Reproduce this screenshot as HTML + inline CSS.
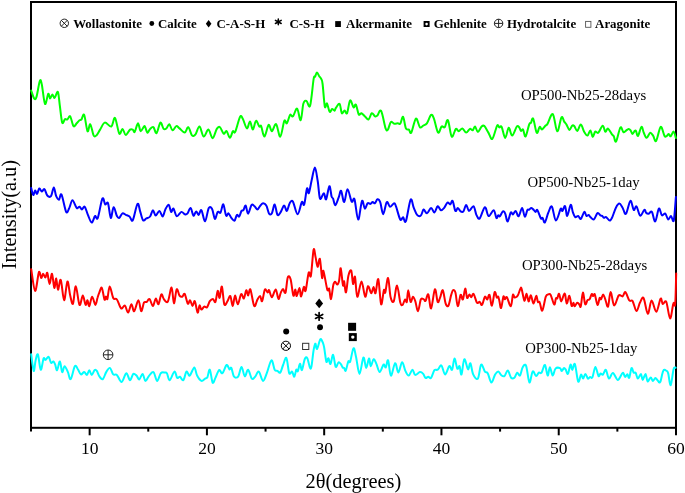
<!DOCTYPE html>
<html><head><meta charset="utf-8">
<style>
html,body{margin:0;padding:0;background:#fff;}
body{width:685px;height:493px;overflow:hidden;}
svg{display:block;will-change:transform;}
.serif{font-family:"Liberation Serif", serif;}
.leg{font-family:"Liberation Serif", serif;font-weight:bold;font-size:12.9px;fill:#000;}
.tick{font-family:"Liberation Serif", serif;font-size:17.5px;fill:#000;}
.clab{font-family:"Liberation Serif", serif;font-size:14.75px;fill:#000;}
.axl{font-family:"Liberation Serif", serif;font-size:20.4px;fill:#000;}
</style></head>
<body>
<svg width="685" height="493" viewBox="0 0 685 493">
<rect x="0" y="0" width="685" height="493" fill="#fff"/>
<rect x="31" y="2" width="645" height="425.8" fill="none" stroke="#000" stroke-width="2"/>
<g stroke="#000" stroke-width="2">
<line x1="31.00" y1="427.8" x2="31.00" y2="431.6"/><line x1="89.64" y1="427.8" x2="89.64" y2="435.3"/><line x1="148.27" y1="427.8" x2="148.27" y2="431.6"/><line x1="206.91" y1="427.8" x2="206.91" y2="435.3"/><line x1="265.55" y1="427.8" x2="265.55" y2="431.6"/><line x1="324.18" y1="427.8" x2="324.18" y2="435.3"/><line x1="382.82" y1="427.8" x2="382.82" y2="431.6"/><line x1="441.45" y1="427.8" x2="441.45" y2="435.3"/><line x1="500.09" y1="427.8" x2="500.09" y2="431.6"/><line x1="558.73" y1="427.8" x2="558.73" y2="435.3"/><line x1="617.36" y1="427.8" x2="617.36" y2="431.6"/><line x1="676.00" y1="427.8" x2="676.00" y2="435.3"/>
</g>
<g fill="none" stroke-width="2.0" stroke-linejoin="round" stroke-linecap="round">
<path d="M31.2,90.6C31.7,91.9 33.3,97.5 34.2,98.5C35.1,99.5 35.6,99.8 36.5,96.9C37.4,94.0 38.9,83.4 39.8,81.2C40.7,79.0 40.8,80.2 41.7,84.0C42.6,87.8 43.9,102.3 45.0,103.9C46.1,105.5 47.4,94.7 48.2,93.8C49.1,92.9 49.4,98.4 50.1,98.5C50.8,98.6 51.7,94.6 52.4,94.5C53.1,94.4 53.8,97.8 54.3,98.0C54.8,98.2 55.1,96.7 55.7,95.7C56.3,94.7 57.3,90.5 58.0,92.2C58.7,94.0 59.2,101.1 59.9,106.2C60.6,111.3 61.4,120.4 62.2,122.6C63.1,124.8 64.1,119.6 65.0,119.1C65.9,118.6 66.5,120.0 67.4,119.5C68.3,119.0 69.2,115.2 70.2,116.3C71.2,117.4 72.4,124.9 73.5,126.1C74.6,127.3 75.7,124.3 76.7,123.3C77.7,122.3 78.7,120.8 79.5,120.2C80.3,119.6 80.6,120.4 81.4,119.5C82.2,118.6 83.2,113.0 84.2,114.9C85.2,116.9 86.5,129.6 87.5,131.2C88.5,132.8 89.3,123.5 90.3,124.2C91.3,124.9 92.6,133.5 93.6,135.4C94.6,137.3 95.3,136.4 96.4,135.4C97.5,134.4 98.7,131.7 100.1,129.6C101.5,127.5 102.9,123.1 104.8,122.6C106.7,122.1 109.6,127.3 111.3,126.5C113.0,125.7 113.7,116.7 115.0,117.9C116.3,119.1 118.0,131.8 119.3,133.6C120.5,135.4 121.4,128.7 122.5,128.9C123.6,129.1 124.5,134.9 125.8,135.0C127.0,135.1 128.8,130.5 130.0,129.6C131.2,128.7 132.0,129.2 132.8,129.6C133.6,130.0 133.8,133.0 134.7,131.9C135.6,130.8 137.0,123.4 138.0,123.3C139.0,123.2 139.6,130.7 140.7,131.2C141.8,131.7 143.4,125.9 144.5,126.1C145.6,126.3 146.4,132.1 147.3,132.6C148.2,133.1 149.1,129.8 150.1,128.9C151.1,128.0 152.3,126.5 153.4,127.2C154.5,127.9 155.4,133.9 156.6,133.1C157.8,132.3 159.2,123.3 160.4,122.6C161.6,121.9 162.6,127.9 163.6,128.9C164.6,129.9 165.4,129.2 166.4,128.4C167.4,127.6 168.3,123.9 169.3,124.2C170.3,124.5 171.3,130.0 172.5,130.3C173.7,130.6 175.1,126.4 176.3,126.1C177.5,125.8 178.1,127.3 179.5,128.4C180.9,129.5 183.2,132.8 184.7,132.6C186.2,132.4 187.1,126.7 188.3,127.2C189.5,127.7 190.8,134.2 192.0,135.4C193.2,136.6 194.2,135.8 195.5,134.3C196.8,132.8 198.1,126.1 199.5,126.5C200.9,126.9 202.2,136.1 203.7,136.6C205.2,137.1 206.9,129.3 208.4,129.6C209.9,129.9 211.2,138.3 212.6,138.2C214.0,138.1 215.6,130.7 216.8,128.9C218.0,127.1 218.9,126.4 220.0,127.2C221.1,128.0 222.5,132.9 223.6,133.6C224.7,134.3 225.5,130.5 226.6,131.2C227.7,131.9 228.8,137.8 229.9,137.8C231.0,137.8 232.0,132.2 232.9,131.2C233.8,130.2 234.0,134.3 235.2,131.9C236.4,129.5 238.8,118.8 240.1,116.7C241.4,114.6 241.8,117.1 242.9,119.1C244.0,121.0 245.7,128.0 246.9,128.4C248.1,128.8 249.0,121.2 250.0,121.4C251.0,121.6 251.8,129.7 252.8,129.6C253.8,129.5 254.9,121.4 256.0,120.9C257.1,120.4 258.4,125.6 259.3,126.5C260.2,127.4 260.4,124.4 261.2,126.1C262.0,127.8 263.2,136.8 264.4,136.6C265.6,136.4 267.4,125.8 268.6,124.9C269.9,124.0 270.6,131.3 271.9,131.2C273.1,131.1 274.7,123.3 276.1,124.2C277.5,125.1 278.9,137.2 280.3,136.6C281.7,136.0 283.2,123.1 284.3,120.9C285.4,118.7 285.9,124.3 286.9,123.3C287.9,122.3 289.1,116.1 290.1,114.9C291.1,113.7 291.8,117.3 293.0,116.3C294.2,115.2 295.8,107.9 297.1,108.6C298.4,109.2 299.6,121.0 300.7,120.2C301.8,119.4 302.4,106.7 303.4,103.5C304.4,100.3 305.4,100.5 306.5,100.9C307.6,101.3 308.9,109.3 310.1,105.7C311.3,102.1 312.8,84.0 313.6,79.2C314.4,74.4 314.4,77.9 315.0,76.8C315.6,75.7 316.3,72.7 317.0,72.6C317.7,72.5 318.5,75.2 319.2,76.2C319.9,77.2 320.6,77.6 321.2,78.9C321.8,80.2 322.0,79.4 322.6,84.0C323.2,88.6 324.1,103.2 324.8,106.5C325.5,109.8 326.2,102.6 327.0,103.5C327.8,104.4 328.8,110.9 329.7,111.8C330.6,112.7 331.3,109.2 332.1,109.0C332.9,108.8 334.0,110.9 334.6,110.7C335.2,110.5 335.1,109.0 335.9,107.9C336.7,106.8 338.6,103.1 339.6,104.0C340.6,104.9 341.0,112.1 341.8,113.2C342.6,114.3 343.7,110.5 344.6,110.5C345.5,110.5 346.2,114.9 347.1,113.2C348.0,111.5 349.0,101.4 350.1,100.4C351.2,99.4 352.6,106.7 353.6,107.4C354.6,108.1 355.0,103.4 355.9,104.6C356.8,105.8 357.8,113.0 358.7,114.4C359.6,115.8 360.5,112.9 361.5,113.2C362.5,113.5 363.6,115.2 364.8,116.3C366.0,117.3 367.3,120.0 368.5,119.5C369.7,119.0 370.7,113.7 371.8,113.2C372.9,112.7 374.1,115.9 375.0,116.3C375.9,116.7 376.4,116.5 377.4,115.6C378.4,114.7 379.7,108.8 381.1,110.9C382.5,113.0 384.5,125.3 385.6,128.4C386.7,131.5 387.0,130.7 387.9,129.6C388.8,128.5 389.8,122.9 390.9,121.9C391.9,120.9 393.0,123.5 394.2,123.7C395.4,123.9 396.9,123.3 397.9,123.3C398.9,123.3 399.4,124.8 400.3,123.7C401.2,122.6 402.2,115.9 403.1,116.7C404.0,117.5 404.9,126.2 405.9,128.4C406.9,130.6 408.0,128.9 408.9,129.6C409.8,130.3 410.1,134.4 411.3,132.6C412.5,130.8 414.5,119.5 415.9,118.6C417.3,117.7 418.7,126.0 419.9,127.2C421.1,128.4 422.0,126.2 423.2,125.6C424.4,124.9 425.6,125.1 426.9,123.3C428.2,121.5 429.9,115.7 431.1,114.9C432.3,114.1 432.7,115.6 433.9,118.6C435.1,121.5 436.8,131.3 438.1,132.6C439.4,133.9 440.5,127.4 441.6,126.5C442.7,125.6 443.6,128.2 444.7,127.2C445.8,126.2 446.7,118.6 447.9,120.2C449.1,121.8 450.4,135.2 451.7,136.6C453.0,138.0 454.7,129.8 455.9,128.9C457.1,128.0 457.6,131.3 458.7,131.2C459.8,131.1 461.1,128.2 462.4,128.4C463.6,128.6 464.9,132.5 466.2,132.6C467.4,132.7 468.8,129.3 469.9,128.9C471.0,128.5 471.8,130.7 472.7,130.3C473.6,129.9 474.1,126.2 475.0,126.5C475.9,126.8 476.8,131.9 477.9,131.9C479.0,131.9 480.5,127.5 481.6,126.5C482.7,125.5 483.3,125.1 484.4,126.1C485.5,127.1 487.1,130.5 488.4,132.6C489.7,134.7 490.9,140.1 492.3,138.9C493.8,137.8 495.9,127.6 497.1,125.7C498.3,123.8 498.6,127.2 499.4,127.4C500.2,127.6 500.7,125.2 501.7,126.9C502.7,128.7 504.0,137.8 505.2,137.9C506.4,138.1 507.5,128.2 508.7,127.8C509.9,127.4 510.8,135.8 512.2,135.6C513.6,135.4 515.7,127.7 516.9,126.4C518.1,125.1 518.8,127.0 519.5,127.8C520.2,128.6 520.3,130.6 520.9,130.9C521.5,131.2 522.2,128.6 523.0,129.5C523.8,130.4 524.6,137.4 525.6,136.5C526.6,135.6 528.3,126.6 529.2,124.3C530.1,122.0 530.2,123.8 530.9,122.9C531.6,122.0 532.2,117.1 533.2,118.7C534.2,120.3 535.6,131.3 536.7,132.7C537.8,134.1 538.8,127.4 539.7,126.9C540.6,126.4 541.0,129.7 541.9,129.5C542.8,129.3 544.5,126.6 545.4,125.7C546.3,124.8 546.3,125.8 547.5,123.9C548.7,122.0 551.2,112.9 552.8,114.1C554.4,115.3 555.8,130.8 557.2,131.3C558.7,131.8 560.3,118.9 561.5,117.3C562.7,115.7 563.4,120.4 564.2,121.6C565.0,122.8 565.6,123.2 566.5,124.6C567.4,126.0 568.5,129.7 569.4,129.9C570.3,130.1 571.3,126.4 572.1,125.7C572.9,125.0 573.3,125.1 574.2,126.0C575.1,126.9 576.2,131.1 577.3,130.9C578.4,130.7 579.6,124.4 580.8,124.6C582.0,124.8 583.2,130.3 584.3,132.1C585.4,133.9 586.5,135.9 587.5,135.6C588.5,135.3 589.5,130.2 590.4,130.4C591.3,130.6 591.9,136.7 592.7,136.9C593.5,137.1 594.3,132.3 595.2,131.6C596.1,130.9 597.0,133.7 598.3,132.7C599.5,131.7 601.5,125.9 602.7,125.7C603.9,125.5 604.4,131.1 605.3,131.6C606.2,132.1 606.9,128.1 608.0,128.6C609.1,129.1 611.0,133.1 612.0,134.4C613.0,135.7 613.1,135.1 613.8,136.3C614.5,137.5 615.0,143.0 616.1,141.5C617.2,140.0 619.2,129.1 620.4,127.5C621.6,126.0 622.5,131.6 623.4,132.2C624.3,132.8 624.8,131.4 625.7,130.8C626.6,130.2 627.8,129.0 628.6,128.9C629.4,128.8 630.0,129.6 630.6,130.4C631.2,131.2 631.8,133.8 632.5,133.9C633.2,134.0 634.2,131.3 634.8,130.8C635.4,130.3 635.5,130.2 636.0,131.0C636.5,131.8 637.1,136.6 638.0,135.9C638.9,135.2 640.5,127.4 641.5,126.9C642.5,126.4 642.9,131.0 643.8,132.8C644.7,134.6 645.6,137.8 646.7,137.8C647.8,137.8 649.1,133.1 650.2,132.8C651.3,132.5 652.2,134.5 653.2,135.9C654.2,137.3 654.9,142.5 656.1,141.0C657.4,139.5 659.3,127.8 660.7,126.9C662.1,126.1 663.5,134.4 664.5,135.9C665.5,137.4 666.1,136.2 666.8,135.9C667.5,135.6 668.1,133.8 668.7,133.9C669.4,134.0 669.9,136.7 670.7,136.3C671.5,135.9 672.7,131.3 673.6,131.6C674.5,131.9 675.5,136.9 675.9,138.0" stroke="#00ff00"/>
<path d="M31.2,188.0C31.5,189.2 32.6,194.6 33.3,195.0C33.9,195.4 34.5,190.6 35.1,190.4C35.7,190.2 36.3,194.2 37.0,193.9C37.7,193.6 38.5,188.9 39.3,188.5C40.1,188.1 40.8,191.4 41.7,191.5C42.6,191.6 43.6,188.5 44.5,189.2C45.4,189.9 46.2,194.3 47.3,195.5C48.4,196.7 49.9,197.5 51.0,196.2C52.1,194.9 52.9,187.6 53.8,187.6C54.7,187.6 55.3,194.2 56.2,196.2C57.1,198.2 58.1,200.0 59.0,199.7C59.9,199.4 60.3,192.6 61.5,194.6C62.7,196.6 64.9,209.7 66.2,211.9C67.5,214.1 68.2,209.9 69.3,207.9C70.3,205.9 71.3,200.2 72.5,200.2C73.7,200.2 75.5,206.8 76.7,207.9C77.9,209.0 78.6,206.4 79.5,206.7C80.4,207.0 81.0,209.5 81.9,209.5C82.8,209.5 83.7,205.8 84.7,206.7C85.7,207.6 86.7,212.2 87.9,214.9C89.1,217.6 90.5,222.4 91.7,222.6C92.9,222.8 94.0,216.9 95.0,216.1C96.0,215.3 96.6,220.8 97.8,217.9C99.0,215.0 101.2,200.8 102.4,198.6C103.6,196.3 104.3,203.6 105.2,204.4C106.1,205.2 107.1,200.9 108.0,203.2C108.9,205.4 109.9,217.2 110.8,217.9C111.7,218.6 112.6,207.5 113.6,207.2C114.6,206.9 116.0,214.3 116.9,216.1C117.9,217.9 118.4,218.4 119.3,217.9C120.2,217.4 121.4,213.8 122.5,213.3C123.6,212.8 124.6,214.4 125.8,214.9C127.0,215.4 128.3,215.6 129.5,216.5C130.7,217.4 131.5,222.4 132.8,220.3C134.1,218.2 136.2,205.3 137.5,203.9C138.8,202.5 139.4,209.2 140.3,211.9C141.2,214.6 142.1,219.2 143.1,220.3C144.1,221.4 145.2,219.0 146.4,218.4C147.6,217.8 149.0,217.9 150.1,216.5C151.2,215.1 152.0,210.3 152.9,210.2C153.8,210.0 154.6,215.5 155.7,215.6C156.8,215.7 158.2,210.8 159.4,210.9C160.6,211.1 161.7,216.8 162.7,216.5C163.7,216.2 164.5,211.0 165.5,209.1C166.5,207.2 167.9,204.4 168.8,204.9C169.7,205.4 170.3,211.3 171.1,211.9C171.9,212.5 172.6,207.9 173.5,208.6C174.4,209.3 175.4,215.5 176.7,216.1C178.0,216.7 180.1,212.2 181.4,211.9C182.7,211.6 183.7,213.9 184.7,214.2C185.7,214.5 186.3,214.8 187.3,213.7C188.3,212.6 189.6,207.6 190.6,207.9C191.6,208.2 192.5,215.0 193.4,215.6C194.3,216.2 195.3,211.5 196.2,211.4C197.1,211.3 197.7,215.1 198.6,214.9C199.5,214.7 200.3,209.1 201.4,210.2C202.5,211.2 203.9,221.6 205.1,221.2C206.3,220.8 207.6,209.9 208.8,207.9C210.0,205.9 211.1,207.3 212.1,209.1C213.1,210.9 214.0,218.4 214.9,218.9C215.8,219.4 216.8,213.0 217.7,211.9C218.6,210.8 219.6,213.8 220.5,212.6C221.4,211.3 222.4,203.9 223.3,204.4C224.2,204.9 225.2,214.1 226.1,215.6C227.0,217.1 227.6,212.9 228.5,213.3C229.4,213.7 230.3,216.7 231.3,217.9C232.3,219.1 233.6,221.2 234.5,220.7C235.4,220.2 236.1,215.6 236.9,214.9C237.7,214.2 238.4,217.2 239.2,216.5C240.0,215.8 240.8,212.0 241.5,210.9C242.2,209.8 242.7,211.1 243.4,210.2C244.1,209.3 244.9,205.0 245.7,205.6C246.5,206.2 247.1,213.8 248.1,213.7C249.1,213.6 250.5,206.1 251.6,204.9C252.7,203.7 253.6,205.5 254.6,206.3C255.6,207.1 256.5,209.5 257.4,209.5C258.3,209.5 258.9,207.4 259.8,206.3C260.7,205.2 261.9,203.3 263.0,203.2C264.1,203.1 265.3,203.8 266.3,205.6C267.3,207.3 268.2,212.4 269.1,213.7C270.0,215.0 271.0,214.9 271.9,213.3C272.8,211.8 273.8,204.1 274.7,204.4C275.6,204.7 276.5,213.7 277.5,214.9C278.5,216.2 279.7,213.5 280.8,211.9C281.9,210.3 283.1,205.8 284.1,205.6C285.1,205.4 286.0,211.3 286.9,210.9C287.8,210.5 288.7,204.8 289.7,203.2C290.7,201.6 291.6,199.8 292.9,201.6C294.2,203.4 296.1,214.1 297.6,214.2C299.1,214.3 300.7,203.7 301.8,202.1C302.9,200.5 303.3,206.7 304.2,204.4C305.1,202.1 306.2,190.4 307.0,188.5C307.8,186.6 308.0,194.5 308.8,193.2C309.6,191.9 310.6,184.9 311.6,180.6C312.6,176.3 313.9,167.4 314.9,167.5C315.9,167.6 316.8,175.8 317.7,181.0C318.6,186.2 319.0,196.6 320.0,198.6C321.0,200.6 322.8,193.1 323.8,193.2C324.8,193.3 325.2,200.5 326.1,199.3C327.0,198.1 328.5,186.6 329.4,186.2C330.3,185.8 331.0,194.5 331.6,196.6C332.2,198.7 332.5,197.2 333.1,198.6C333.7,200.0 334.4,205.4 335.3,205.2C336.2,205.0 337.7,199.8 338.7,197.4C339.7,195.0 340.2,190.0 341.1,190.8C342.0,191.6 343.1,202.4 344.2,202.1C345.3,201.8 346.2,189.3 347.5,189.2C348.8,189.1 350.5,199.9 351.7,201.6C352.9,203.3 353.4,196.3 354.5,199.3C355.6,202.3 356.9,219.3 358.2,219.6C359.4,219.9 360.9,202.7 362.0,200.9C363.1,199.1 363.9,208.2 364.8,208.6C365.7,209.0 366.7,204.0 367.6,203.2C368.5,202.4 369.5,204.1 370.4,203.9C371.2,203.7 371.9,202.2 372.7,202.1C373.5,202.0 374.2,203.7 375.0,203.2C375.8,202.7 376.5,199.5 377.4,199.3C378.3,199.1 379.2,199.6 380.2,202.1C381.2,204.6 382.1,214.2 383.2,214.2C384.3,214.2 385.6,203.3 386.7,202.1C387.8,200.8 388.8,206.5 390.0,206.7C391.2,206.9 393.2,203.2 394.2,203.2C395.2,203.2 395.1,204.0 396.1,206.7C397.1,209.4 399.1,217.8 400.3,219.6C401.5,221.3 402.2,216.9 403.1,217.2C404.0,217.5 404.6,224.1 405.9,221.2C407.1,218.3 409.3,201.9 410.6,199.7C411.9,197.5 412.7,205.4 413.8,207.9C414.9,210.4 415.9,213.6 417.1,214.9C418.3,216.2 419.7,216.5 420.8,215.6C421.9,214.7 422.6,209.9 423.6,209.5C424.6,209.1 425.6,213.6 426.9,213.3C428.1,213.0 429.9,208.0 431.1,207.9C432.4,207.8 433.3,212.9 434.4,212.6C435.5,212.3 436.6,206.7 437.7,206.3C438.8,205.9 439.8,209.9 440.9,210.2C442.0,210.5 443.1,209.2 444.2,207.9C445.3,206.6 446.5,203.1 447.5,202.5C448.5,201.9 449.4,204.7 450.3,204.4C451.2,204.1 451.8,199.8 452.6,200.9C453.5,202.0 454.5,209.7 455.4,210.9C456.3,212.1 456.9,207.8 457.8,207.9C458.7,208.0 459.7,210.8 460.6,211.4C461.5,212.0 462.5,212.5 463.4,211.4C464.3,210.3 465.3,205.0 466.2,204.9C467.1,204.8 467.8,210.7 469.0,210.9C470.2,211.1 472.4,205.6 473.6,206.3C474.8,207.0 475.4,212.9 476.4,214.9C477.4,216.9 478.3,219.7 479.7,218.4C481.1,217.1 483.4,207.6 484.9,207.2C486.4,206.8 487.1,215.6 488.6,216.1C490.1,216.6 492.4,209.9 493.7,210.2C495.0,210.5 495.6,217.1 496.4,218.0C497.1,218.9 497.6,215.7 498.2,215.4C498.8,215.1 499.1,217.0 499.9,216.3C500.7,215.6 502.0,211.9 502.9,211.4C503.8,210.9 504.4,211.9 505.2,213.6C506.0,215.3 506.7,221.7 507.6,221.5C508.5,221.3 509.9,213.6 510.8,212.4C511.7,211.2 512.1,214.7 512.9,214.5C513.7,214.3 514.8,210.7 515.7,211.0C516.7,211.3 517.5,216.8 518.6,216.3C519.7,215.8 521.1,207.9 522.1,207.9C523.1,207.9 523.9,216.2 524.8,216.6C525.7,217.0 526.7,211.3 527.4,210.1C528.1,208.9 528.5,210.0 529.2,209.6C529.9,209.2 530.6,207.8 531.4,207.9C532.2,208.0 533.2,209.4 533.9,210.1C534.6,210.8 535.0,211.9 535.6,211.9C536.2,211.9 536.5,209.0 537.4,210.1C538.3,211.2 540.0,217.1 540.9,218.4C541.8,219.7 541.9,217.3 542.6,218.0C543.3,218.7 543.9,223.3 544.9,222.4C545.9,221.5 547.2,215.0 548.4,212.4C549.6,209.8 550.6,205.2 551.9,206.6C553.1,208.0 554.4,220.2 555.9,220.6C557.4,221.0 559.6,210.5 560.7,208.9C561.8,207.3 561.7,211.5 562.4,211.0C563.1,210.5 564.3,205.3 565.1,206.1C565.9,206.9 566.3,216.1 567.2,215.9C568.1,215.7 569.8,205.5 570.7,204.9C571.7,204.3 572.1,210.4 572.9,212.4C573.6,214.4 574.3,216.5 575.2,217.1C576.1,217.7 577.3,215.6 578.2,215.9C579.1,216.2 579.8,219.6 580.8,218.9C581.8,218.2 583.4,212.4 584.3,211.9C585.2,211.4 585.7,215.4 586.4,215.9C587.1,216.4 588.0,214.7 588.7,214.9C589.4,215.1 589.5,216.3 590.4,217.1C591.3,217.8 592.7,220.1 593.9,219.4C595.1,218.7 596.4,213.8 597.5,213.1C598.6,212.4 599.6,214.9 600.4,215.4C601.2,215.9 601.6,215.5 602.2,215.9C602.8,216.3 603.2,217.5 603.9,217.7C604.6,217.9 605.2,216.6 606.2,217.1C607.2,217.6 608.7,220.6 609.7,220.6C610.7,220.6 611.3,219.2 612.3,217.1C613.3,214.9 614.7,209.9 615.9,207.7C617.1,205.4 618.2,203.6 619.3,203.6C620.4,203.6 621.5,206.0 622.6,207.7C623.7,209.4 624.6,215.0 625.9,213.8C627.2,212.7 629.1,201.4 630.4,200.8C631.7,200.2 632.7,209.1 633.7,210.0C634.7,210.9 635.4,205.5 636.5,206.4C637.6,207.3 638.9,215.1 640.2,215.7C641.5,216.3 643.3,210.3 644.3,209.8C645.3,209.3 645.4,212.1 646.1,212.8C646.8,213.5 647.5,214.0 648.5,213.8C649.5,213.7 650.8,210.6 651.9,211.9C653.0,213.2 654.0,222.0 655.2,221.4C656.4,220.8 657.8,209.6 658.9,208.6C660.0,207.6 660.8,214.5 661.9,215.3C663.0,216.1 664.2,212.8 665.3,213.5C666.3,214.2 667.2,219.1 668.2,219.5C669.2,219.9 670.1,215.8 671.0,215.9C671.9,216.1 673.0,223.6 673.8,220.4C674.6,217.2 675.5,200.9 675.9,197.0" stroke="#0000ff"/>
<path d="M31.2,269.2C31.9,272.8 33.8,290.4 35.1,290.9C36.4,291.4 37.9,274.3 38.9,272.2C39.9,270.1 40.5,277.7 41.2,278.0C41.9,278.3 42.4,273.9 43.1,273.8C43.8,273.7 44.7,277.8 45.4,277.6C46.1,277.5 46.6,271.8 47.3,272.9C48.0,273.9 48.8,283.8 49.6,283.9C50.4,284.0 51.2,273.1 52.0,273.8C52.8,274.5 53.6,287.1 54.3,287.9C55.0,288.7 55.6,278.2 56.2,278.5C56.8,278.8 57.2,289.5 58.0,289.7C58.8,289.9 59.8,278.1 60.8,279.9C61.8,281.6 63.0,299.9 64.1,300.2C65.2,300.5 66.4,282.3 67.4,281.5C68.4,280.7 69.3,291.9 70.2,295.6C71.1,299.3 72.1,305.3 73.0,303.7C73.9,302.1 74.7,286.0 75.8,286.2C76.9,286.4 78.3,303.3 79.5,304.9C80.7,306.5 81.8,295.6 82.8,295.6C83.8,295.6 84.8,304.1 85.6,304.9C86.4,305.7 86.9,300.0 87.5,300.2C88.1,300.4 88.5,306.7 89.3,306.1C90.1,305.5 91.1,296.9 92.1,296.7C93.1,296.5 94.5,304.8 95.4,304.9C96.3,305.0 96.9,299.5 97.6,297.5C98.2,295.5 98.6,294.3 99.3,292.7C100.0,291.1 100.9,286.7 101.8,287.8C102.7,288.9 103.8,298.0 104.5,299.5C105.2,301.0 105.4,296.7 105.9,296.6C106.4,296.5 106.8,300.5 107.4,298.8C108.0,297.1 108.7,286.6 109.7,286.5C110.7,286.4 112.0,295.7 113.2,297.9C114.4,300.1 115.6,297.8 116.9,299.5C118.2,301.2 119.8,307.4 121.1,308.4C122.4,309.4 123.7,304.9 124.9,305.6C126.1,306.3 127.0,312.8 128.1,312.6C129.2,312.4 130.4,304.4 131.4,304.2C132.4,304.0 133.0,311.9 134.2,311.2C135.4,310.5 137.2,300.2 138.4,300.2C139.6,300.2 140.3,310.8 141.2,311.2C142.1,311.6 143.1,304.2 144.0,302.6C144.9,301.1 145.9,302.5 146.8,301.9C147.7,301.3 148.6,298.4 149.6,299.1C150.6,299.8 151.9,306.2 152.9,306.1C153.9,306.0 154.8,298.9 155.7,298.6C156.6,298.3 157.6,304.9 158.5,304.2C159.4,303.5 160.4,295.2 161.3,294.4C162.2,293.6 163.0,298.3 164.1,299.5C165.2,300.7 166.7,303.4 167.9,301.4C169.2,299.4 170.6,287.1 171.6,287.4C172.6,287.7 173.1,303.0 173.9,303.3C174.8,303.6 175.8,290.6 176.7,289.3C177.6,288.0 178.6,294.4 179.5,295.6C180.4,296.8 181.4,297.0 182.3,296.7C183.2,296.4 183.8,292.8 184.7,293.9C185.6,295.0 186.9,302.5 187.8,303.6C188.7,304.7 189.3,299.9 190.1,300.3C190.9,300.7 191.7,305.8 192.5,305.9C193.3,306.0 194.0,300.1 194.8,301.2C195.7,302.3 196.8,311.9 197.6,312.6C198.4,313.3 198.9,305.9 199.5,305.4C200.1,304.9 200.6,309.4 201.4,309.6C202.2,309.8 203.3,307.0 204.2,306.6C205.1,306.2 206.1,308.2 207.0,307.3C207.9,306.4 208.8,302.6 209.8,301.2C210.8,299.8 212.1,298.8 213.0,298.9C213.9,299.0 214.6,303.2 215.4,301.9C216.2,300.6 217.0,291.6 217.7,290.9C218.4,290.2 218.9,298.6 219.6,297.9C220.3,297.2 221.1,285.6 221.9,286.7C222.7,287.8 223.4,301.9 224.3,304.3C225.2,306.7 226.5,302.6 227.5,301.2C228.5,299.8 229.4,295.3 230.3,296.1C231.2,296.9 231.9,306.0 232.7,305.9C233.5,305.8 234.2,295.9 235.0,295.6C235.8,295.3 236.8,304.5 237.8,304.3C238.8,304.1 240.1,295.2 241.1,294.2C242.1,293.2 243.1,299.1 243.9,298.4C244.8,297.7 245.5,290.7 246.2,290.2C246.9,289.7 247.4,295.7 248.1,295.6C248.8,295.5 249.4,287.8 250.4,289.5C251.4,291.2 253.0,304.2 254.2,305.9C255.4,307.6 256.4,301.2 257.4,299.6C258.4,298.0 259.4,295.8 260.2,296.1C261.0,296.4 261.3,302.3 262.1,301.2C262.9,300.1 264.0,290.9 264.9,289.5C265.8,288.1 267.0,292.5 267.7,292.6C268.4,292.7 268.4,289.4 269.1,290.2C269.8,291.0 270.8,297.3 271.9,297.2C273.0,297.1 274.6,289.2 275.7,289.5C276.8,289.8 277.6,298.4 278.5,298.9C279.4,299.4 280.0,294.2 280.8,292.6C281.6,291.0 282.3,289.1 283.1,289.1C283.9,289.1 284.7,294.6 285.5,292.6C286.3,290.7 286.9,279.6 287.8,277.4C288.7,275.2 289.7,276.3 290.6,279.3C291.5,282.3 292.6,293.9 293.4,295.6C294.2,297.3 294.8,289.4 295.3,289.5C295.9,289.6 296.0,296.4 296.7,296.1C297.4,295.8 298.8,287.8 299.5,287.9C300.2,288.0 300.4,296.8 301.1,296.6C301.8,296.4 303.1,287.9 303.9,286.9C304.6,285.9 304.8,293.2 305.6,290.8C306.4,288.4 307.8,275.2 308.7,272.7C309.6,270.2 310.1,279.5 310.9,275.7C311.7,271.9 312.8,252.8 313.6,249.7C314.4,246.6 314.9,254.5 315.6,257.3C316.3,260.2 316.9,266.5 317.6,266.8C318.3,267.1 319.1,257.1 319.9,259.0C320.6,260.9 321.5,275.9 322.1,277.9C322.7,279.9 322.5,268.9 323.4,270.9C324.3,272.8 326.3,286.6 327.3,289.6C328.3,292.6 328.6,287.2 329.2,288.8C329.8,290.4 330.3,299.7 331.0,299.1C331.7,298.5 332.6,287.9 333.3,285.0C334.0,282.1 334.6,281.9 335.2,281.8C335.8,281.7 336.5,284.8 337.1,284.6C337.8,284.4 338.5,283.4 339.1,280.7C339.7,278.0 340.1,267.4 340.7,268.2C341.3,269.0 342.4,283.2 343.0,285.4C343.6,287.6 343.6,280.1 344.1,281.3C344.6,282.5 345.3,293.3 346.0,292.4C346.7,291.5 347.5,279.3 348.4,275.7C349.3,272.1 350.4,269.2 351.2,270.6C352.0,272.0 352.5,282.8 353.1,283.9C353.7,284.9 354.3,274.8 355.0,276.9C355.7,279.0 356.2,295.9 357.3,296.7C358.4,297.5 360.2,281.5 361.5,281.5C362.8,281.5 364.1,295.9 365.2,296.7C366.3,297.5 367.0,286.8 368.0,286.2C369.0,285.6 370.4,293.1 371.3,293.2C372.2,293.3 372.9,286.9 373.6,286.9C374.3,286.9 374.7,294.5 375.5,293.2C376.3,291.9 377.4,277.4 378.3,279.2C379.2,281.0 380.2,302.4 381.1,304.2C382.0,306.0 383.2,292.1 383.9,290.2C384.6,288.2 384.6,294.5 385.3,292.5C386.0,290.5 387.2,277.3 388.1,278.0C389.0,278.7 389.6,292.8 390.5,296.7C391.4,300.6 392.6,303.3 393.7,301.4C394.8,299.5 395.9,285.3 397.0,285.5C398.1,285.7 399.4,299.4 400.3,302.6C401.2,305.8 401.8,305.4 402.6,304.9C403.4,304.4 404.3,300.0 405.0,299.5C405.7,299.0 406.3,303.4 406.8,301.9C407.3,300.3 407.6,290.2 408.2,290.2C408.8,290.2 409.8,300.8 410.6,301.9C411.4,303.0 412.1,296.9 412.9,296.7C413.7,296.5 414.3,298.5 415.2,300.9C416.1,303.3 417.1,311.4 418.0,311.2C418.9,311.0 419.9,301.5 420.8,299.5C421.7,297.5 422.8,298.9 423.6,299.1C424.4,299.3 424.7,301.7 425.5,300.9C426.3,300.1 427.4,293.1 428.3,294.4C429.2,295.6 430.0,309.2 431.1,308.4C432.2,307.5 433.8,290.4 434.9,289.3C436.0,288.2 436.8,300.5 437.7,301.9C438.6,303.3 439.1,299.8 440.0,297.9C440.9,295.9 441.9,289.3 442.8,290.2C443.7,291.1 444.7,300.7 445.6,303.3C446.5,305.9 447.5,307.0 448.4,305.6C449.3,304.2 450.4,297.5 451.2,294.9C452.0,292.3 452.4,290.6 453.1,290.2C453.8,289.8 454.6,289.9 455.4,292.5C456.2,295.1 456.9,305.7 457.8,306.1C458.7,306.5 459.8,296.0 460.6,294.9C461.5,293.8 462.1,300.6 462.9,299.5C463.7,298.4 464.5,288.9 465.2,288.6C465.9,288.3 466.4,296.9 467.1,297.9C467.8,298.9 468.7,294.5 469.4,294.4C470.1,294.3 470.6,297.3 471.3,297.2C472.0,297.1 472.7,293.0 473.6,293.9C474.5,294.8 475.9,301.3 476.9,302.6C477.9,303.9 478.8,301.5 479.7,301.9C480.6,302.3 481.2,305.8 482.1,304.9C483.0,304.0 484.0,297.6 484.9,296.7C485.8,295.8 486.4,299.8 487.2,299.5C488.0,299.2 488.7,293.9 489.5,294.9C490.3,295.9 491.0,306.1 491.9,305.6C492.8,305.1 493.9,293.5 494.7,292.1C495.5,290.8 496.2,296.8 496.8,297.5C497.4,298.2 497.8,296.0 498.2,296.6C498.6,297.2 498.9,299.1 499.4,301.0C499.9,302.9 500.4,308.7 501.1,308.0C501.8,307.3 502.8,298.1 503.4,296.6C504.0,295.2 504.2,299.2 504.8,299.3C505.4,299.4 505.9,296.0 506.9,297.2C507.9,298.4 509.8,306.7 510.8,306.3C511.8,305.9 512.3,296.4 512.9,294.9C513.5,293.4 513.9,297.2 514.6,297.5C515.3,297.8 516.3,297.0 516.9,296.6C517.5,296.2 517.5,296.2 518.1,294.9C518.7,293.6 519.8,289.8 520.4,288.8C521.0,287.8 520.9,286.8 521.6,288.8C522.3,290.8 523.6,299.9 524.4,300.7C525.2,301.5 525.8,293.6 526.5,293.7C527.2,293.8 527.9,301.1 528.6,301.4C529.3,301.7 530.1,295.0 530.9,295.4C531.7,295.8 532.6,303.5 533.5,303.6C534.4,303.7 535.5,296.1 536.2,295.8C536.9,295.5 537.3,300.8 537.9,301.9C538.5,303.0 539.0,300.9 539.7,302.4C540.4,303.8 541.3,311.6 542.3,310.6C543.3,309.6 544.8,299.3 545.8,296.6C546.8,293.9 547.6,294.7 548.4,294.4C549.2,294.1 549.7,293.2 550.7,294.9C551.7,296.6 553.3,303.9 554.2,304.5C555.1,305.1 555.4,299.4 555.9,298.4C556.4,297.4 556.8,299.2 557.3,298.4C557.8,297.6 558.5,293.2 559.1,293.7C559.8,294.2 560.4,301.2 561.2,301.4C562.0,301.6 563.1,296.1 563.7,294.9C564.4,293.7 564.6,292.9 565.1,294.4C565.6,295.8 566.1,303.4 566.8,303.6C567.5,303.8 568.6,295.4 569.4,295.8C570.2,296.2 571.0,304.7 571.7,305.9C572.4,307.1 573.0,302.7 573.5,302.8C574.0,302.9 574.1,306.3 574.7,306.3C575.3,306.3 576.3,303.2 577.0,302.8C577.7,302.4 578.5,303.6 579.1,304.2C579.7,304.8 580.2,308.2 580.8,306.3C581.4,304.4 582.2,293.0 582.9,292.6C583.6,292.2 584.4,302.9 585.2,304.2C586.0,305.4 586.8,300.9 587.5,300.1C588.2,299.3 588.9,300.3 589.6,299.3C590.3,298.3 591.1,294.5 591.7,294.0C592.3,293.5 592.6,296.0 593.1,296.1C593.6,296.2 594.1,292.9 594.8,294.4C595.5,295.9 596.7,304.3 597.5,304.9C598.3,305.5 599.1,298.8 599.7,297.9C600.3,297.0 600.4,299.9 601.0,299.3C601.6,298.7 602.5,294.4 603.2,294.4C603.9,294.4 604.5,297.3 605.3,299.3C606.1,301.3 607.1,307.8 608.0,306.6C608.9,305.4 609.6,292.1 610.6,291.9C611.6,291.7 612.8,304.8 614.1,305.4C615.5,306.0 617.3,297.0 618.7,295.5C620.1,294.0 621.5,296.9 622.6,296.4C623.7,295.8 624.3,291.5 625.4,292.2C626.5,292.9 628.1,299.0 629.3,300.5C630.5,302.0 631.4,299.3 632.6,301.1C633.8,302.9 635.3,310.9 636.5,311.1C637.7,311.4 638.8,304.8 640.0,302.6C641.2,300.4 642.3,296.2 643.6,298.1C644.9,300.0 646.5,313.3 647.8,313.7C649.1,314.1 650.2,300.8 651.6,300.5C653.0,300.2 654.8,312.1 656.3,311.8C657.8,311.5 659.5,299.9 660.6,298.6C661.7,297.3 661.8,303.4 662.7,304.0C663.7,304.6 665.1,299.5 666.3,301.9C667.5,304.3 668.9,318.3 670.1,318.5C671.3,318.7 672.5,305.7 673.4,303.3C674.2,300.9 674.7,309.0 675.2,304.0C675.7,299.0 676.0,278.6 676.2,273.5" stroke="#ff0000"/>
<path d="M31.2,354.3C31.6,357.1 33.0,369.9 33.7,370.9C34.4,371.9 34.9,363.1 35.6,360.4C36.3,357.7 37.0,352.9 37.9,354.5C38.8,356.1 39.8,369.0 40.7,369.7C41.7,370.4 42.8,360.1 43.6,358.5C44.4,356.9 44.5,360.2 45.4,359.9C46.2,359.6 47.8,356.4 48.7,356.9C49.6,357.4 50.2,361.9 51.0,362.7C51.8,363.5 52.7,361.2 53.4,361.5C54.1,361.8 54.6,363.2 55.2,364.6C55.8,366.1 56.3,370.7 57.1,370.2C57.9,369.7 59.0,361.2 59.9,361.5C60.8,361.8 61.4,371.3 62.2,372.1C63.0,372.9 63.6,366.2 64.6,366.2C65.5,366.2 66.9,370.0 67.9,372.1C68.9,374.2 69.5,380.1 70.7,379.1C71.9,378.1 73.7,367.8 74.9,366.2C76.1,364.6 77.1,368.3 78.1,369.7C79.1,371.1 79.9,374.0 80.9,374.4C81.9,374.8 83.2,372.0 84.2,372.1C85.2,372.2 86.2,375.2 87.0,374.9C87.8,374.6 88.5,370.2 89.3,370.2C90.1,370.2 90.8,374.9 91.7,374.9C92.6,374.9 93.7,370.9 94.5,370.2C95.3,369.5 96.0,369.8 96.8,370.9C97.6,372.0 98.6,375.3 99.6,376.7C100.6,378.1 101.8,379.9 102.9,379.1C104.0,378.3 105.0,374.0 106.2,372.1C107.4,370.2 108.7,367.5 109.9,367.9C111.1,368.3 112.0,373.2 113.2,374.4C114.4,375.6 115.5,373.6 116.9,374.9C118.3,376.1 120.0,382.2 121.6,381.9C123.2,381.6 124.9,373.5 126.3,373.2C127.7,372.9 128.8,380.1 130.0,380.2C131.2,380.3 132.2,374.7 133.3,373.9C134.4,373.1 135.5,374.7 136.5,375.6C137.5,376.5 138.3,379.8 139.3,379.5C140.3,379.2 141.6,373.7 142.6,373.9C143.6,374.1 144.4,380.5 145.4,380.9C146.4,381.3 147.4,377.8 148.7,376.3C150.0,374.8 152.0,371.3 153.4,372.1C154.8,372.9 155.9,380.7 157.1,380.9C158.3,381.1 159.6,374.6 160.8,373.2C162.1,371.8 163.6,372.5 164.6,372.5C165.6,372.5 166.1,371.9 166.9,373.2C167.8,374.5 168.4,380.5 169.7,380.2C170.9,379.9 173.2,372.0 174.4,371.6C175.7,371.2 176.3,377.0 177.2,377.9C178.1,378.8 179.0,376.3 180.0,376.7C181.0,377.1 182.2,381.0 183.3,380.2C184.4,379.4 185.4,372.4 186.5,371.6C187.6,370.8 188.4,376.3 189.7,375.6C191.0,374.9 193.1,367.4 194.3,367.4C195.5,367.4 195.9,373.4 197.1,375.6C198.3,377.9 200.1,380.4 201.4,380.9C202.7,381.4 204.1,379.2 205.1,378.6C206.1,378.0 206.6,378.7 207.4,377.2C208.2,375.7 208.9,368.8 209.8,369.7C210.7,370.6 211.7,381.2 212.6,382.6C213.5,384.0 214.3,380.0 215.4,377.9C216.5,375.8 217.9,371.0 219.1,370.2C220.3,369.4 221.2,374.1 222.4,373.2C223.7,372.3 225.4,365.6 226.6,365.0C227.8,364.4 228.6,368.8 229.4,369.3C230.2,369.8 230.5,366.7 231.3,367.9C232.1,369.1 232.9,375.3 234.1,376.7C235.3,378.1 237.1,377.9 238.3,376.3C239.5,374.7 240.4,366.9 241.5,366.9C242.6,366.9 243.7,375.8 244.8,376.3C245.9,376.8 246.9,369.3 248.1,369.7C249.3,370.1 250.6,377.4 251.8,378.6C253.0,379.8 253.9,377.9 255.1,376.7C256.3,375.5 257.5,370.9 258.8,371.6C260.1,372.3 261.7,380.6 263.0,380.9C264.3,381.2 265.4,376.6 266.8,373.2C268.2,369.8 270.1,361.0 271.4,360.4C272.7,359.8 273.7,367.9 274.7,369.7C275.7,371.4 276.6,370.4 277.5,370.9C278.4,371.4 279.4,373.5 280.3,372.5C281.2,371.5 282.1,367.4 283.1,365.0C284.1,362.6 285.4,356.6 286.4,358.0C287.4,359.4 288.3,370.9 289.2,373.2C290.1,375.5 291.1,371.0 292.0,371.6C292.9,372.2 293.6,377.0 294.3,376.7C295.0,376.4 295.7,370.5 296.3,369.6C296.9,368.7 297.2,372.2 297.8,371.2C298.4,370.2 299.3,364.0 300.0,363.8C300.7,363.6 301.1,370.9 301.9,370.1C302.7,369.3 303.9,361.0 304.8,359.0C305.7,357.0 306.4,356.7 307.3,358.2C308.2,359.7 309.3,366.6 310.0,367.9C310.7,369.2 310.9,368.9 311.5,366.2C312.1,363.5 312.8,355.2 313.4,351.5C314.0,347.8 314.7,344.1 315.3,343.7C315.9,343.3 316.2,349.6 317.1,348.9C318.0,348.1 319.4,340.1 320.4,339.2C321.4,338.3 322.5,342.0 323.1,343.4C323.7,344.8 323.6,344.7 324.2,347.8C324.8,350.9 325.7,360.1 326.4,361.8C327.1,363.5 327.7,357.8 328.4,358.2C329.1,358.6 329.7,364.6 330.5,364.0C331.3,363.4 332.2,354.3 333.1,354.8C334.0,355.3 334.8,365.6 335.7,366.8C336.6,368.1 337.6,362.7 338.5,362.3C339.4,361.9 340.2,363.3 340.9,364.2C341.6,365.1 342.2,367.0 342.7,367.6C343.2,368.2 343.6,367.4 344.1,367.9C344.6,368.4 345.0,371.8 345.7,370.7C346.4,369.6 347.6,363.0 348.3,361.5C349.1,360.0 349.3,363.7 350.2,361.5C351.1,359.3 352.5,348.9 353.5,348.2C354.5,347.5 355.1,353.0 356.1,357.3C357.1,361.6 358.3,373.9 359.5,374.0C360.7,374.1 362.3,358.6 363.4,357.6C364.5,356.6 365.3,367.8 366.2,367.9C367.1,368.0 368.2,358.8 369.0,358.5C369.8,358.2 370.0,366.1 370.8,366.2C371.6,366.3 372.7,359.6 373.6,359.2C374.5,358.8 375.4,361.8 376.4,363.9C377.4,366.0 378.5,372.0 379.7,372.1C380.9,372.2 382.5,365.4 383.5,364.6C384.5,363.8 385.0,368.1 385.8,367.4C386.6,366.7 387.2,359.0 388.1,360.4C389.0,361.8 389.7,375.1 390.9,375.6C392.1,376.1 393.9,363.7 395.1,363.2C396.4,362.7 397.2,372.7 398.4,372.5C399.6,372.3 400.9,362.5 402.1,362.2C403.3,361.9 404.3,368.7 405.4,370.9C406.5,373.1 407.5,375.8 408.7,375.6C409.9,375.4 411.3,369.8 412.4,369.7C413.5,369.6 413.9,374.5 415.2,374.9C416.4,375.3 418.6,372.3 419.9,372.1C421.2,371.9 422.3,372.9 423.2,373.9C424.1,374.9 424.6,377.4 425.5,377.9C426.4,378.4 427.4,376.7 428.3,376.7C429.2,376.7 430.1,379.0 431.1,377.9C432.1,376.8 433.3,371.6 434.4,370.2C435.5,368.8 436.5,370.5 437.7,369.7C438.9,368.9 440.2,364.7 441.4,365.5C442.6,366.3 443.8,374.3 445.1,374.4C446.4,374.5 448.1,367.0 449.3,366.2C450.5,365.4 451.2,371.0 452.1,369.7C453.0,368.4 453.6,358.7 454.5,358.5C455.4,358.3 456.4,367.3 457.3,368.6C458.2,369.9 458.9,365.2 459.6,366.2C460.3,367.2 460.7,375.6 461.5,374.4C462.3,373.2 463.2,360.0 464.3,359.2C465.4,358.4 467.0,368.6 468.0,369.3C469.0,370.0 469.5,362.4 470.4,363.2C471.3,364.0 471.9,371.8 473.2,374.4C474.4,377.0 476.6,380.2 477.9,378.6C479.2,377.0 479.9,365.8 481.1,364.6C482.3,363.4 483.8,370.2 484.9,371.6C486.0,373.0 486.6,371.4 487.7,373.2C488.8,375.0 490.2,382.4 491.4,382.6C492.6,382.8 494.0,376.3 495.1,374.4C496.2,372.5 497.3,371.3 498.3,371.4C499.3,371.5 500.1,374.2 501.1,375.0C502.1,375.8 503.3,376.9 504.4,376.1C505.5,375.4 506.7,370.2 507.8,370.5C508.9,370.8 510.0,376.5 511.1,377.7C512.2,378.9 513.4,378.5 514.4,377.7C515.4,376.9 516.3,373.1 517.2,372.7C518.1,372.3 519.1,376.4 520.0,375.5C520.9,374.6 521.7,368.8 522.7,367.2C523.7,365.6 525.0,363.3 526.1,365.8C527.2,368.3 528.3,381.5 529.4,382.4C530.5,383.3 531.6,372.4 532.7,371.4C533.8,370.3 535.1,375.9 536.1,376.1C537.1,376.3 537.9,373.3 538.8,372.7C539.7,372.1 540.6,374.0 541.6,372.7C542.6,371.4 543.9,364.5 544.9,365.0C545.9,365.5 546.9,375.1 547.7,375.5C548.5,375.9 549.1,367.2 549.9,367.2C550.7,367.2 551.8,375.3 552.7,375.5C553.6,375.7 554.3,369.8 555.5,368.6C556.7,367.4 559.0,367.7 560.0,368.1C561.0,368.5 561.1,371.1 561.8,371.1C562.4,371.1 563.3,368.4 563.9,368.1C564.5,367.8 564.9,368.4 565.6,369.4C566.3,370.4 567.1,374.7 567.9,373.9C568.7,373.1 569.8,365.3 570.5,364.6C571.2,363.9 571.6,370.0 572.3,369.9C573.0,369.8 573.9,362.2 574.9,364.1C575.9,366.1 577.2,379.9 578.2,381.6C579.2,383.4 580.2,375.1 581.0,374.6C581.8,374.1 582.4,378.7 583.1,378.6C583.8,378.5 584.6,373.9 585.4,373.9C586.2,373.9 587.2,378.1 588.0,378.6C588.8,379.1 589.4,377.1 590.1,376.9C590.8,376.7 591.5,379.1 592.4,377.4C593.3,375.7 594.4,367.1 595.4,366.9C596.4,366.7 597.6,374.9 598.5,376.0C599.4,377.1 599.9,373.6 600.6,373.4C601.3,373.2 602.0,375.2 602.9,374.6C603.8,374.0 604.9,369.2 605.9,369.9C606.9,370.6 607.8,378.1 609.0,378.6C610.2,379.1 611.4,372.7 612.9,372.9C614.4,373.1 616.2,379.9 617.8,379.9C619.4,379.9 621.5,373.4 622.7,372.9C623.9,372.4 624.3,376.7 625.1,376.9C625.9,377.1 626.7,374.1 627.4,374.3C628.1,374.5 628.5,378.8 629.2,377.8C629.9,376.8 630.8,369.0 631.5,368.1C632.2,367.2 632.9,371.7 633.6,372.5C634.3,373.3 635.0,371.9 635.7,372.9C636.4,373.9 637.0,378.4 637.9,378.6C638.8,378.8 640.1,373.7 640.9,373.9C641.7,374.1 641.9,379.9 642.7,379.9C643.5,379.9 644.7,373.7 645.5,373.9C646.3,374.1 646.7,380.7 647.6,381.3C648.5,381.9 649.8,377.5 650.7,377.4C651.6,377.3 652.0,380.8 652.8,380.9C653.6,381.0 654.6,378.2 655.4,378.1C656.2,378.0 656.9,379.7 657.7,380.4C658.5,381.1 659.3,383.7 660.2,382.1C661.1,380.5 662.2,372.7 663.3,370.8C664.3,368.9 665.7,370.4 666.5,370.8C667.3,371.2 667.5,371.0 668.2,373.4C668.9,375.8 669.8,385.8 670.7,385.1C671.6,384.4 672.7,372.3 673.5,369.4C674.3,366.5 675.2,367.9 675.6,367.6" stroke="#00ffff"/>
</g>
<g class="tick">
<text x="89.64" y="453.8" text-anchor="middle">10</text><text x="206.91" y="453.8" text-anchor="middle">20</text><text x="324.18" y="453.8" text-anchor="middle">30</text><text x="441.45" y="453.8" text-anchor="middle">40</text><text x="558.73" y="453.8" text-anchor="middle">50</text><text x="676.00" y="453.8" text-anchor="middle">60</text>
</g>
<g class="leg">
<text x="73.2" y="28.0">Wollastonite</text>
<text x="158.0" y="28.0">Calcite</text>
<text x="216.5" y="28.0">C-A-S-H</text>
<text x="289.4" y="28.0">C-S-H</text>
<text x="346.1" y="28.0">Akermanite</text>
<text x="433.8" y="28.0">Gehlenite</text>
<text x="506.9" y="28.0">Hydrotalcite</text>
<text x="595.1" y="28.0">Aragonite</text>
</g>
<g id="legsyms" fill="#000" stroke="#000">
<!-- wollastonite otimes -->
<g transform="translate(64.3,23.3)" fill="none" stroke-width="1" stroke="#222"><circle r="4.2"/><path d="M-3.1,-3.1 L3.1,3.1 M-3.1,3.1 L3.1,-3.1"/></g>
<circle cx="151.8" cy="23.5" r="2.4" stroke="none"/>
<path d="M208.65,20.1 L211.45,23.85 L208.65,27.6 L205.85,23.85 Z" stroke="none"/>
<g transform="translate(278.3,21.9)" fill="none" stroke-width="1.5" stroke-linecap="round"><path d="M0,-2.9 L0,2.9 M-2.9,-1.6 L2.9,1.6 M-2.9,1.6 L2.9,-1.6"/></g>
<rect x="335.2" y="21.1" width="5.7" height="5.9" stroke="none"/>
<rect x="423.6" y="21.0" width="6" height="6" stroke="none"/><circle cx="426.6" cy="24.1" r="1.3" fill="#fff" stroke="none"/>
<g transform="translate(498.6,23.4)" fill="none" stroke-width="1" stroke="#222"><circle r="4.2"/><path d="M-4.2,0 L4.2,0 M0,-4.2 L0,4.2"/></g>
<rect x="585.6" y="21.4" width="5.3" height="5.9" fill="none" stroke="#555" stroke-width="0.9"/>
</g>
<g class="clab">
<text x="520.9" y="99.9">OP500-Nb25-28days</text>
<text x="527.4" y="187.1">OP500-Nb25-1day</text>
<text x="521.9" y="270.3">OP300-Nb25-28days</text>
<text x="525.2" y="352.9">OP300-Nb25-1day</text>
</g>
<g id="markers" fill="#000">
<path d="M319.2,298.6 L323.1,303.4 L319.2,308.2 L315.3,303.4 Z"/>
<g transform="translate(319.1,316.4)" fill="none" stroke="#000" stroke-width="1.7" stroke-linecap="round"><path d="M0,-3.8 L0,3.8 M-3.6,-2 L3.6,2 M-3.6,2 L3.6,-2"/></g>
<circle cx="320.05" cy="327.3" r="2.95"/>
<circle cx="286.2" cy="331.6" r="3"/>
<g transform="translate(285.9,345.8)" fill="none" stroke="#000" stroke-width="1"><circle r="4.6"/><path d="M-3.2,-3.2 L3.2,3.2 M-3.2,3.2 L3.2,-3.2"/></g>
<rect x="302.6" y="343.3" width="6.2" height="6.2" fill="none" stroke="#333" stroke-width="1"/>
<rect x="348.1" y="322.8" width="8" height="8"/>
<rect x="348.8" y="333.1" width="8" height="8"/>
<circle cx="352.8" cy="337.1" r="1.7" fill="#fff"/>
<g transform="translate(108.1,354.8)" fill="none" stroke="#222" stroke-width="1"><circle r="4.8"/><path d="M-4.8,0 L4.8,0 M0,-4.8 L0,4.8"/></g>
</g>
<text class="axl" x="305.5" y="487.8">2&#952;(degrees)</text>
<text class="axl" transform="translate(16,269.2) rotate(-90)">Intensity(a.u)</text>
</svg>
</body></html>
